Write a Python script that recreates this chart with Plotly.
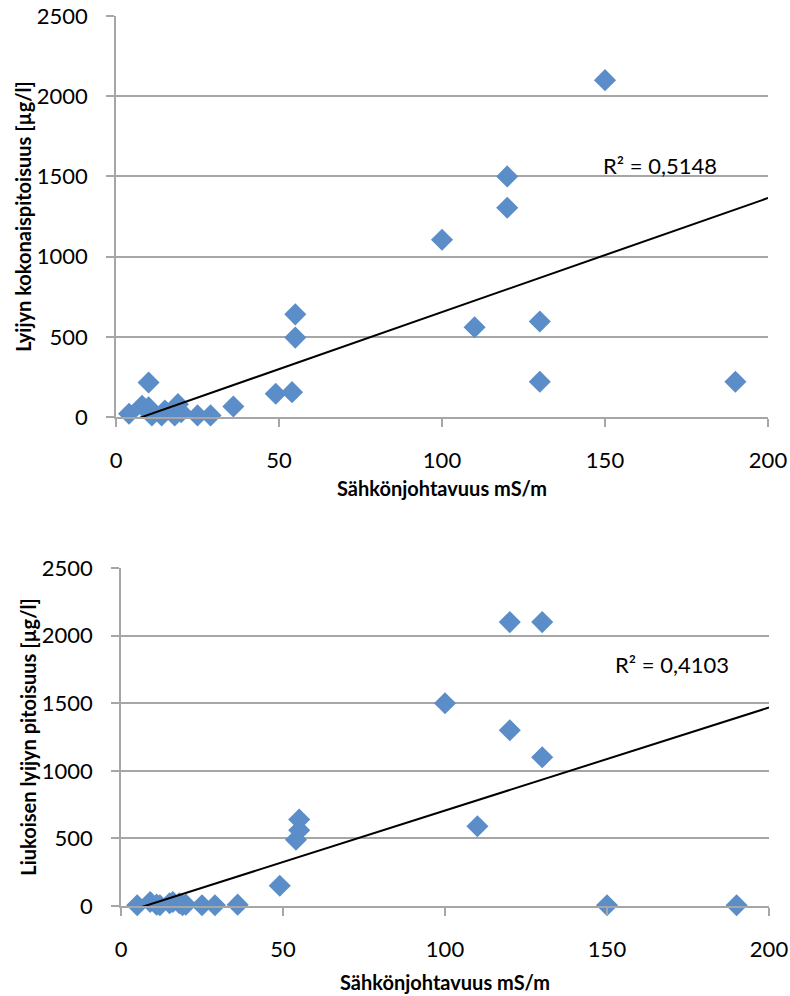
import numpy as np
import plotly.graph_objects as go

# Top chart: total lead vs conductivity
top_x = [4, 8, 10, 10, 11, 14, 15, 18, 19, 20, 25, 29, 36, 49, 54, 55, 55,
         100, 110, 120, 120, 130, 130, 150, 190]
top_y = [20, 70, 215, 60, 10, 10, 40, 10, 80, 30, 10, 10, 65, 145, 155, 640, 495,
         1105, 560, 1500, 1305, 595, 220, 2100, 220]
top_r2 = "R² = 0,5148"
top_trend = (7.11, -57.0)   # slope, intercept

# Bottom chart: dissolved lead vs conductivity
bot_x = [5, 9, 11, 12, 15, 16, 18, 19, 20, 25, 29, 36, 49, 54, 55, 55,
         100, 110, 120, 120, 130, 130, 150, 190]
bot_y = [5, 30, 10, 5, 20, 30, 20, 5, 10, 5, 5, 10, 150, 490, 560, 640,
         1500, 590, 2100, 1300, 2100, 1100, 5, 5]
bot_r2 = "R² = 0,4103"
bot_trend = (7.62, -56.0)

x_title = "Sähkönjohtavuus mS/m"
top_y_title = "Lyijyn kokonaispitoisuus [µg/l]"
bot_y_title = "Liukoisen lyijyn pitoisuus [µg/l]"
x_range = [0, 200]
y_range = [0, 2500]

FONT = "Lato"
BLUE = "#5B8EC8"
GRID = "#A6A6A6"

fig = go.Figure()

def add_panel(xs, ys, trend, xa, ya, r2text, r2pos):
    fig.add_trace(go.Scatter(x=xs, y=ys, mode="markers", xaxis=xa, yaxis=ya,
                             marker=dict(symbol="diamond", size=17, color=BLUE,
                                         line=dict(width=0)),
                             showlegend=False, cliponaxis=False))
    k, b = trend
    lx = np.array([min(xs), x_range[1]])
    fig.add_trace(go.Scatter(x=lx, y=k * lx + b, mode="lines", xaxis=xa, yaxis=ya,
                             line=dict(color="black", width=2), showlegend=False))
    fig.add_annotation(x=r2pos[0], y=r2pos[1], xref=xa, yref=ya, text=r2text,
                       showarrow=False, font=dict(family=FONT, size=22, color="black"))

add_panel(top_x, top_y, top_trend, "x", "y", top_r2, (167, 1571))
add_panel(bot_x, bot_y, bot_trend, "x2", "y2", bot_r2, (170, 1783))

W, H = 790, 996
axis_common = dict(showline=True, linecolor=GRID, linewidth=1.5, ticks="outside",
                   tickcolor=GRID, ticklen=8, tickwidth=1.5, automargin=False,
                   tickfont=dict(family=FONT, size=22, color="black"))
title_font = dict(family=FONT, size=20, color="black")

top_xdom = [116 / W, 768 / W]
bot_xdom = [121 / W, 769 / W]
fig.add_annotation(x=(top_xdom[0] + top_xdom[1]) / 2, y=1 - 488 / H, xref="paper", yref="paper",
                   text="<b>" + x_title + "</b>", showarrow=False, font=title_font,
                   xanchor="center", yanchor="middle")
fig.add_annotation(x=(bot_xdom[0] + bot_xdom[1]) / 2, y=1 - 982 / H, xref="paper", yref="paper",
                   text="<b>" + x_title + "</b>", showarrow=False, font=title_font,
                   xanchor="center", yanchor="middle")

fig.update_layout(
    width=W, height=H, margin=dict(l=0, r=0, t=0, b=0, autoexpand=False),
    plot_bgcolor="white", paper_bgcolor="white",
    xaxis=dict(domain=top_xdom, anchor="y", range=x_range, dtick=50,
               showgrid=False, zeroline=False, ticklabelstandoff=15,
               **axis_common),
    yaxis=dict(domain=[1 - 417 / H, 1 - 16 / H], anchor="x", range=y_range, dtick=500,
               showgrid=True, gridcolor=GRID, gridwidth=1.5, zeroline=False,
               ticklabelstandoff=14,
               title=dict(text="<b>" + top_y_title + "</b>", standoff=0, font=title_font),
               **axis_common),
    xaxis2=dict(domain=bot_xdom, anchor="y2", range=x_range, dtick=50,
                showgrid=False, zeroline=False, ticklabelstandoff=15,
                **axis_common),
    yaxis2=dict(domain=[1 - 906 / H, 1 - 568 / H], anchor="x2", range=y_range, dtick=500,
                showgrid=True, gridcolor=GRID, gridwidth=1.5, zeroline=False,
                ticklabelstandoff=14,
                title=dict(text="<b>" + bot_y_title + "</b>", standoff=0, font=title_font),
                **axis_common),
)

fig.write_html("out.html")
